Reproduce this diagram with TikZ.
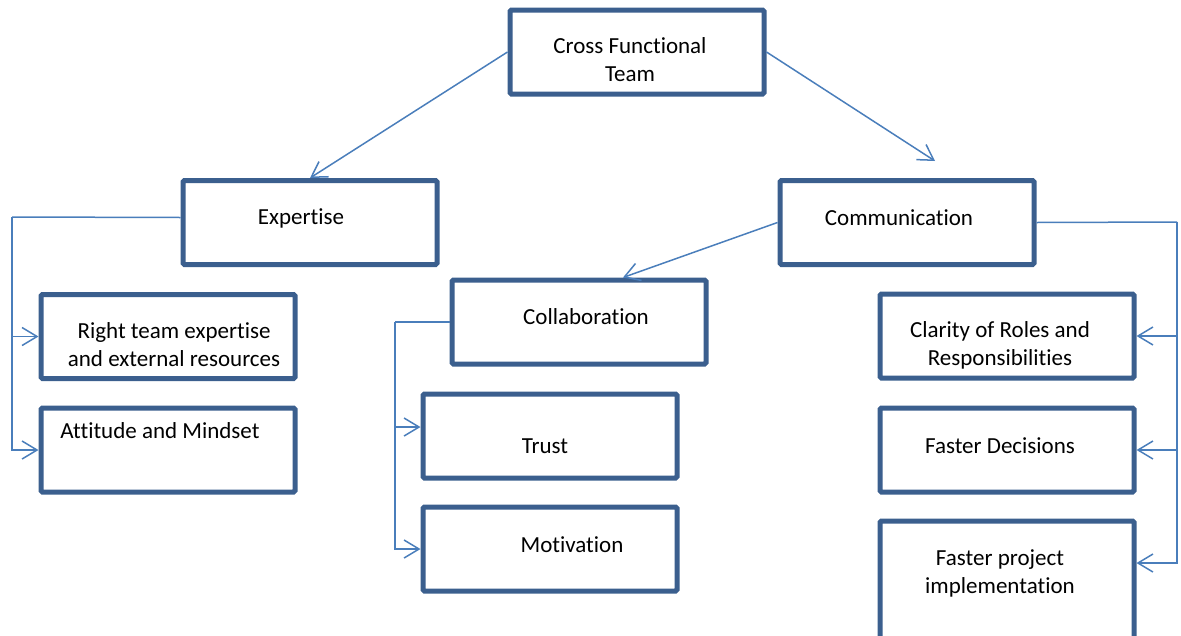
\documentclass[tikz,border=0pt]{standalone}
\usepackage{fontspec}
\setmainfont{Carlito}[Ligatures={NoCommon,NoRare}]
\usetikzlibrary{arrows.meta}
\definecolor{boxline}{HTML}{3B5F8E}
\definecolor{linkline}{HTML}{4A7EBB}
\tikzset{
  box/.style={draw=boxline, line width=5pt, rounded corners=1.5pt,
    minimum width=254pt, minimum height=84pt, inner sep=0pt, fill=white},
  txt/.style={align=center, inner sep=0pt, font=\fontsize{23}{28}\selectfont},
  link/.style={draw=linkline, line width=1.5pt},
  tip/.style={link, -{Straight Barb[length=15pt,width=18pt]}}
}
\begin{document}
\begin{tikzpicture}[x=1pt,y=-1pt]
  \useasboundingbox (0,0) rectangle (1181,635);

  % boxes
  \node[box] (cft) at (637,52) {};
  \node[box] (exp) at (310,222.5) {};
  \node[box] (comm) at (907,222.5) {};
  \node[box] (collab) at (579,322) {};
  \node[box] (rt) at (168,336.5) {};
  \node[box] (att) at (168,450) {};
  \node[box] (trust) at (550,436) {};
  \node[box] (mot) at (550,549) {};
  \node[box] (clar) at (1007,336) {};
  \node[box] (dec) at (1007,450) {};
  \node[box, minimum height=124pt] (proj) at (1007,583) {};

  % labels
  \node[txt] (tcft) at (630,60) {Cross Functional\\Team};
  \node[txt] (texp) at (301,218) {Expertise};
  \node[txt] (tcomm) at (899,218) {Communication};
  \node[txt] (tcollab) at (586,317) {Collaboration};
  \node[txt] (trt) at (174,345) {Right team expertise\\and external resources};
  \node[txt] (tatt) at (160,431) {Attitude and Mindset};
  \node[txt] (ttrust) at (545,446) {Trust};
  \node[txt] (tmot) at (572,545) {Motivation};
  \node[txt] (tclar) at (1000,345) {Clarity of Roles and\\Responsibilities};
  \node[txt] (tdec) at (1000,446) {Faster Decisions};
  \node[txt] (tproj) at (1000,573) {Faster project\\implementation};

  % top level links
  \draw[tip] (cft.west) -- (exp.north);
  \draw[tip] (cft.east) -- ([shift={(28pt,17pt)}]comm.north);
  \draw[tip] (comm.west) -- ([xshift=44pt]collab.north);

  % expertise bus
  \coordinate (ebus) at (12,217);
  \draw[link] ([yshift=5pt]exp.west) -- (ebus);
  \draw[tip] (ebus) |- (rt.west);
  \draw[tip] (ebus) |- (att.west);

  % collaboration bus
  \coordinate (cbus) at (395,322);
  \draw[link] (collab.west) -- (cbus);
  \draw[tip] (cbus) |- ([yshift=9pt]trust.west);
  \draw[tip] (cbus) |- (mot.west);

  % communication bus
  \coordinate (mbus) at (1177,222);
  \draw[link] (comm.east) -- (mbus);
  \draw[tip] (mbus) |- (clar.east);
  \draw[tip] (mbus) |- (dec.east);
  \draw[tip] (mbus) |- ([yshift=20pt]proj.east);
\end{tikzpicture}
\end{document}
